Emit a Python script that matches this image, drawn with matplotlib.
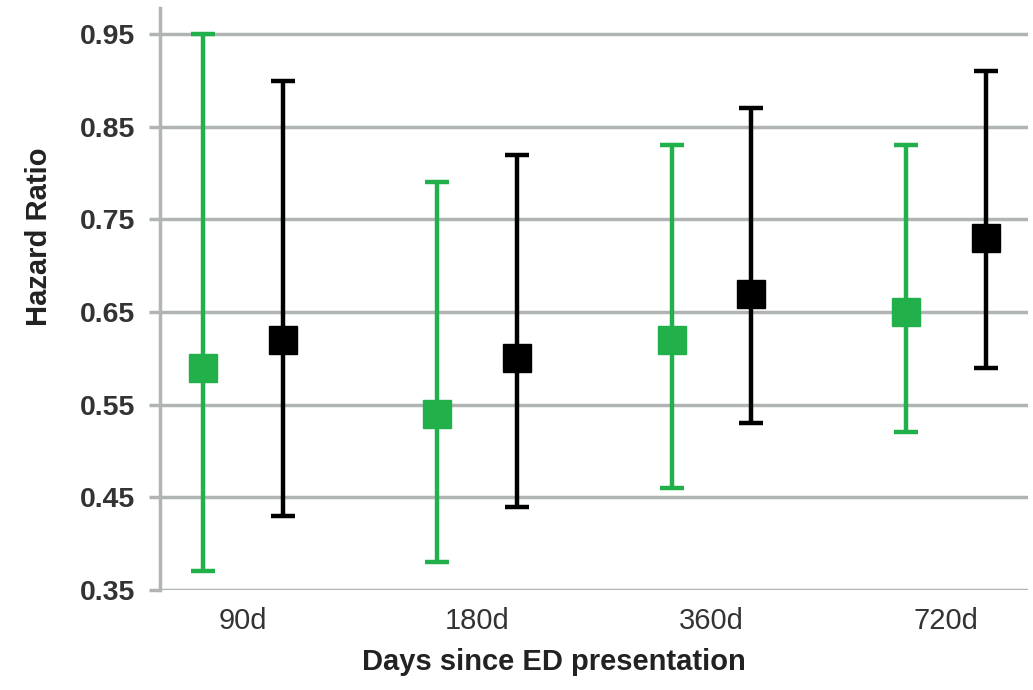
import numpy as np
import matplotlib
matplotlib.use("Agg")
import matplotlib.pyplot as plt

plt.rcParams['font.family'] = ['Liberation Sans', 'DejaVu Sans']

categories = ['90d', '180d', '360d', '720d']

green_hr = [0.59, 0.54, 0.62, 0.65]
green_low = [0.37, 0.38, 0.46, 0.52]
green_high = [0.95, 0.79, 0.83, 0.83]

black_hr = [0.62, 0.60, 0.67, 0.73]
black_low = [0.43, 0.44, 0.53, 0.59]
black_high = [0.90, 0.82, 0.87, 0.91]

yticks = [0.35, 0.45, 0.55, 0.65, 0.75, 0.85, 0.95]

GREEN = '#22b04b'
BLACK = '#000000'


def draw_series(ax, xpos, hr, low, high, color):
    hr = np.array(hr)
    err = [hr - np.array(low), np.array(high) - hr]
    ax.errorbar(xpos, hr, yerr=err, fmt='s', color=color, ecolor=color,
                elinewidth=3.2, capsize=8.5, capthick=3.2, markersize=20,
                zorder=3)


fig = plt.figure(figsize=(10.33, 6.9), dpi=100)
ax = fig.add_axes([0.155, 0.145, 0.84, 0.843])

x = np.arange(len(categories))
off = 0.17
draw_series(ax, x - off, green_hr, green_low, green_high, GREEN)
draw_series(ax, x + off, black_hr, black_low, black_high, BLACK)

ax.set_xlim(-0.354, 3.35)
ax.set_ylim(0.35, 0.978)
ax.set_yticks(yticks)
ax.set_yticklabels([f'{v:.2f}' for v in yticks], fontweight='bold',
                   fontsize=20.5, color='#333333')
ax.set_xticks(x)
ax.set_xticklabels(categories, fontsize=21, color='#333333')

ax.grid(axis='y', color='#b0b4b4', linewidth=2.5, zorder=0)
ax.set_axisbelow(True)
for s in ['top', 'right', 'bottom']:
    ax.spines[s].set_visible(False)
ax.spines['left'].set_color('#b0b4b4')
ax.spines['left'].set_linewidth(2.5)
ax.tick_params(axis='y', length=8, width=2.5, color='#b0b4b4', pad=10)
ax.tick_params(axis='x', length=0, pad=12)

ax.set_xlabel('Days since ED presentation', fontsize=21, fontweight='bold',
              color='#222222')
ax.set_ylabel('Hazard Ratio', fontsize=21, fontweight='bold',
              color='#222222')
ax.xaxis.set_label_coords(0.454, -0.100)
ax.yaxis.set_label_coords(-0.123, 0.607)

fig.savefig('out.png', dpi=100)
